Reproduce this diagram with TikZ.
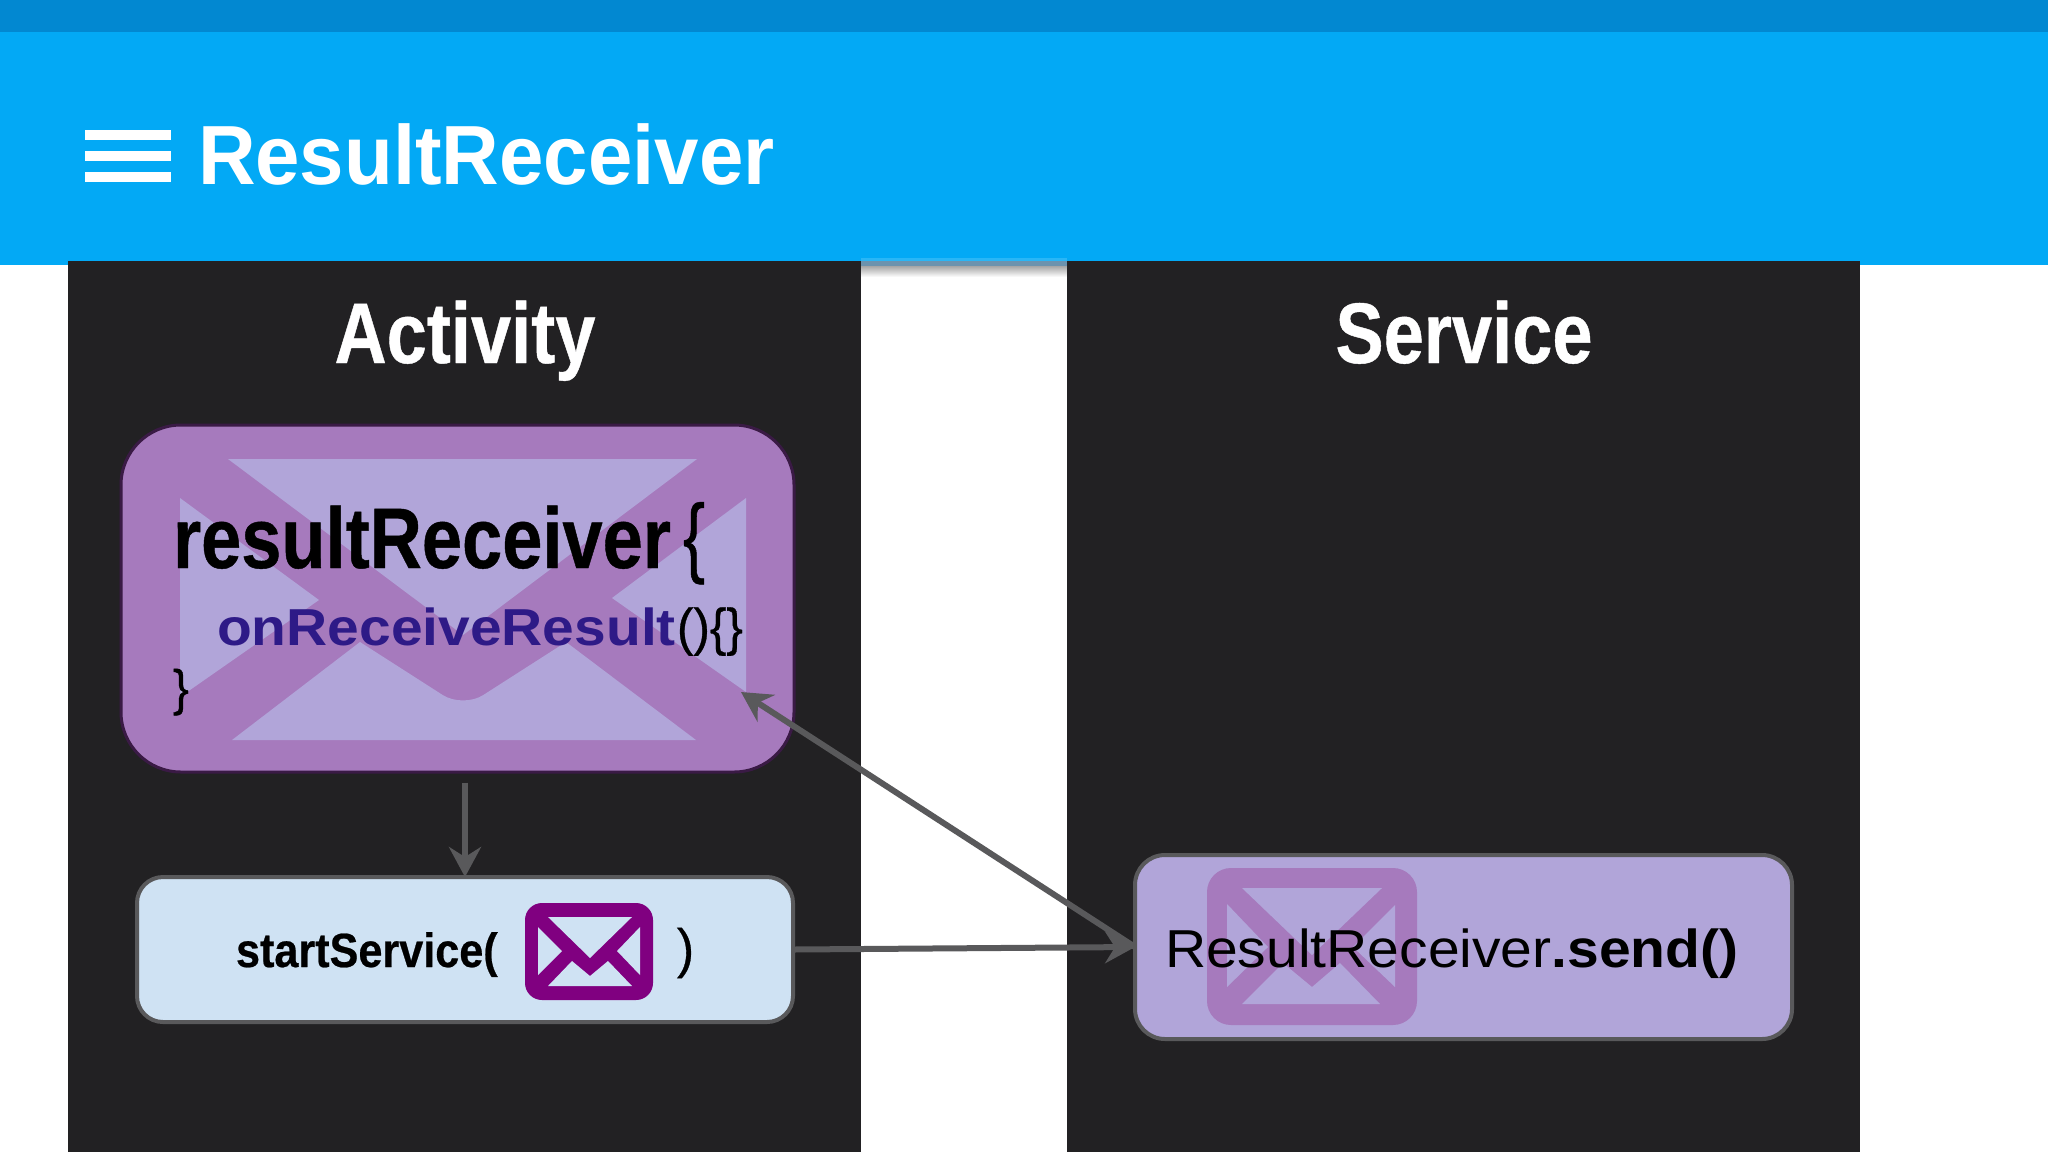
\documentclass[tikz,border=0pt]{standalone}
\usepackage{fontspec}
\setmainfont{Liberation Sans}
\newfontfamily\condfont{Liberation Sans}[FakeStretch=0.84,FakeBold=0.5]
\newfontfamily\titlefont{Liberation Sans}[FakeStretch=0.95]
\newfontfamily\callfont{Liberation Sans}[FakeStretch=0.9,FakeBold=0.5]
\newfontfamily\bracefont{Liberation Sans}[FakeStretch=0.95,FakeBold=0.6]
\newfontfamily\bigbrace{Liberation Sans}[FakeStretch=0.75,FakeBold=0.6]
\newfontfamily\methfont{Liberation Sans}[FakeStretch=1.095]
\newfontfamily\sendfont{Liberation Sans}[FakeStretch=1.068]
\usetikzlibrary{arrows.meta}

\definecolor{statusblue}{HTML}{0288D1}
\definecolor{barblue}{HTML}{03A9F5}
\definecolor{barlight}{HTML}{29B6F6}
\definecolor{bargray}{HTML}{6C93AE}
\definecolor{panelgray}{HTML}{222123}
\definecolor{linegray}{HTML}{59595B}
\definecolor{mauve}{HTML}{A67ABD}
\definecolor{lilac}{HTML}{B1A5D9}
\definecolor{paleblue}{HTML}{CFE2F3}
\definecolor{plum}{HTML}{800080}
\definecolor{darkplum}{HTML}{3A1A45}
\definecolor{indigo}{HTML}{2E1A87}

\tikzset{
  txt/.style   = {anchor=base west, inner sep=0pt, outer sep=0pt},
  cond/.style  = {txt, font=\condfont\bfseries\fontsize{#1}{#1}\selectfont},
  brace/.style = {txt, font=\bracefont\fontsize{#1}{#1}\selectfont},
  box/.style   = {draw=linegray, line width=2pt, inner sep=0pt, outer sep=0pt},
  flow/.style  = {draw=linegray, line width=3pt,
                  -{Stealth[length=15pt,width=16pt,inset=5pt]}}
}

\begin{document}
\begin{tikzpicture}[x=0.5pt,y=-0.5pt]
\useasboundingbox (0,0) rectangle (2048,1152);

% app bar
\fill[barblue] (0,32) rectangle (2048,265);
\fill[statusblue] (0,0) rectangle (2048,32);
\foreach \y in {130,151,172}
  \fill[white] (85,\y) rectangle (171,\y+10);
\node[txt,text=white,font=\titlefont\bfseries\fontsize{42pt}{42pt}\selectfont] (title) at (198,184) {ResultReceiver};

% bar shadow in the gap
\fill[barlight] (861,258) rectangle (1067,261);
\fill[bargray] (861,261) rectangle (1067,266);
\shade[top color=black!35,bottom color=white] (861,266) rectangle (1067,277);

% panels
\fill[panelgray] (68,261) rectangle (861,1152);
\fill[panelgray] (1067,261) rectangle (1860,1152);
\node[cond=43pt,text=white,anchor=base] (activity) at (465,363) {Activity};
\node[cond=43pt,text=white,anchor=base] (service) at (1464,363) {Service};

% receiver box
\node[draw=darkplum,line width=1.5pt,fill=mauve,rounded corners=30pt,
      minimum width=336.5pt,minimum height=173.5pt,inner sep=0pt] (recv) at (457.5,598.5) {};
\fill[lilac] (228,459) -- (697,459) -- (463,635) -- cycle;
\fill[lilac] (180,498) -- (319,600) -- (180,697) -- cycle;
\fill[lilac] (746,498) -- (612,598) -- (746,692) -- cycle;
\fill[lilac] (232,740) -- (360,642) [rounded corners=12pt] -- (463,708) [sharp corners] -- (566,642) -- (696,740) -- cycle;
\node[cond=43pt] (rname) at (173,568) {resultReceiver};
\node[txt,font=\bigbrace\fontsize{44pt}{44pt}\selectfont] (ropen) at (683,566) {\{};
\node[txt,text=indigo,font=\methfont\bfseries\fontsize{26pt}{26pt}\selectfont] (rmeth) at (217,645) {onReceiveResult};
\node[brace=26pt] (rargs) at (677,645) {()\{\}};
\node[brace=25pt] (rclose) at (173,705) {\}};

% startService box
\node[box,fill=paleblue,rounded corners=13pt,
      minimum width=328pt,minimum height=72.5pt] (start) at (465,949.5) {};
\node[txt,font=\callfont\bfseries\fontsize{24pt}{24pt}\selectfont] (call) at (236,967) {startService(};
\fill[plum,rounded corners=8.5pt] (525,903) rectangle (653,1000);
\fill[paleblue] (548,917) -- (632,917) -- (590,958) -- cycle;
\fill[paleblue] (538,927) -- (562,951) -- (538,975) -- cycle;
\fill[paleblue] (640,927) -- (617,951) -- (640,975) -- cycle;
\fill[paleblue] (548,986) -- (572,961) -- (590,976) -- (608,961) -- (632,986) -- cycle;
\node[brace=27pt] (callend) at (677,967) {)};

% send box
\node[box,fill=lilac,rounded corners=15pt,
      minimum width=328.5pt,minimum height=92pt] (send) at (1463.5,947) {};
\fill[mauve,rounded corners=12pt] (1207,868) rectangle (1417,1025);
\fill[lilac] (1242,888) -- (1382,888) -- (1312,955) -- cycle;
\fill[lilac] (1227,904) -- (1268,947) -- (1227,987) -- cycle;
\fill[lilac] (1395,905) -- (1353,947) -- (1395,987) -- cycle;
\fill[lilac] (1242,1004) -- (1283,963) -- (1312,987) -- (1340,963) -- (1380,1004) -- cycle;
\node[txt,font=\sendfont\fontsize{26.7pt}{26.7pt}\selectfont] (sendtxt) at (1165,967) {ResultReceiver\textbf{.send()}};

% connectors
\coordinate (back) at (741,692);
\draw[flow,shorten <=4.5pt] (recv.south -| start.north) -- (start.north);
\draw[flow] (start.east) -- (send.west);
\draw[flow] (send.west) -- (back);
\end{tikzpicture}
\end{document}
